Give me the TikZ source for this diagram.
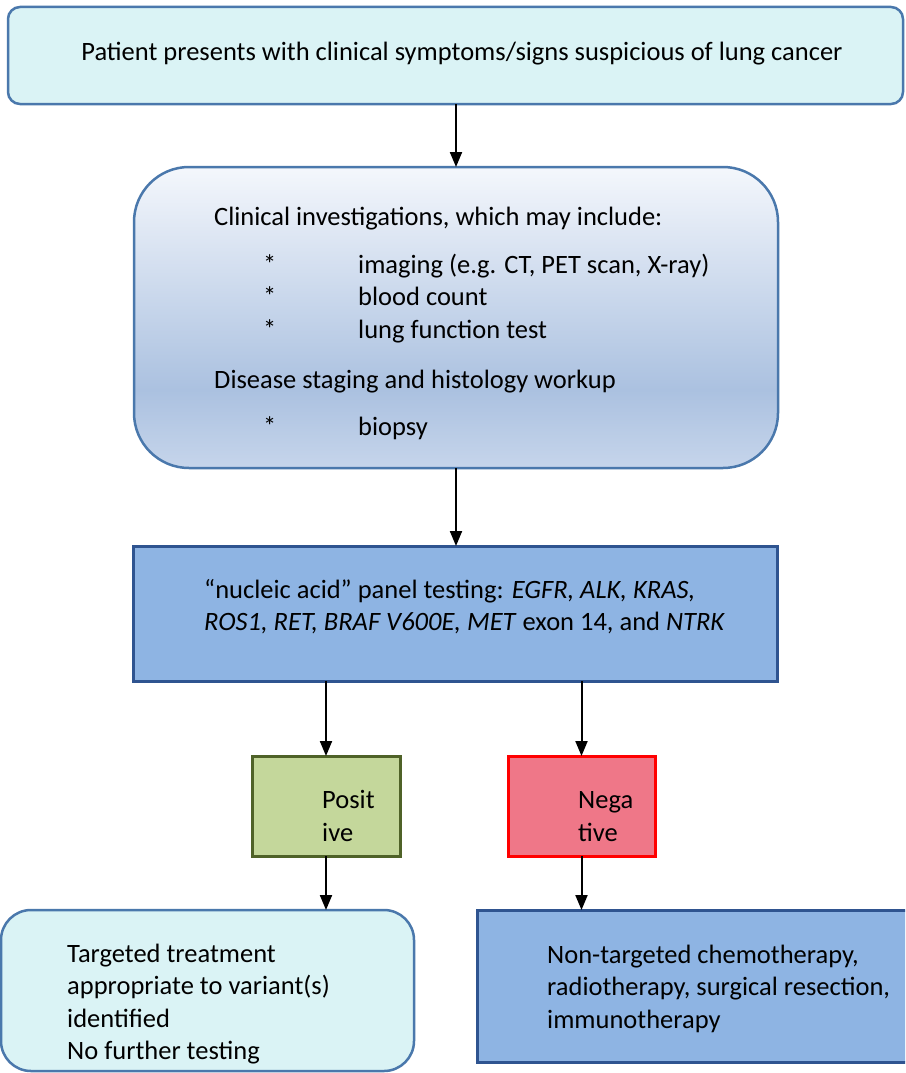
\documentclass[tikz,border=0pt]{standalone}
\usepackage{fontspec}
\setmainfont{Carlito}
\usetikzlibrary{arrows.meta}
\definecolor{cyanfill}{HTML}{DAF3F5}
\definecolor{cyanline}{HTML}{4A78AC}
\definecolor{gradtop}{HTML}{F4F7FC}
\definecolor{gradmid}{HTML}{ABC1E0}
\definecolor{gradbot}{HTML}{C6D5EB}
\definecolor{bluefill}{HTML}{8EB4E3}
\definecolor{blueline}{HTML}{2F5490}
\definecolor{greenfill}{HTML}{C4D79B}
\definecolor{greenline}{HTML}{4F6228}
\definecolor{redfill}{HTML}{EF7788}
\definecolor{redline}{HTML}{FF0000}
\pgfdeclareverticalshading{boxtwoshade}{100bp}{color(0bp)=(gradbot); color(25bp)=(gradbot); color(38bp)=(gradmid); color(75bp)=(gradtop); color(100bp)=(gradtop)}
\begin{document}
\begin{tikzpicture}[x=1pt,y=-1pt,
  boxbase/.style={rectangle, inner sep=0pt, outer sep=0pt},
  cyanbox/.style={boxbase, fill=cyanfill, draw=cyanline, line width=2.5pt},
  gradbox/.style={boxbase, shading=boxtwoshade, draw=cyanline, line width=2.5pt},
  bluebox/.style={boxbase, fill=bluefill, draw=blueline, line width=3pt},
  greenbox/.style={boxbase, fill=greenfill, draw=greenline, line width=3pt},
  redbox/.style={boxbase, fill=redfill, draw=redline, line width=3pt},
  txt/.style={anchor=base west, inner sep=0pt, font=\fontsize{26.5}{32}\selectfont},
  ctxt/.style={anchor=base, inner sep=0pt, font=\fontsize{26.5}{32}\selectfont},
  arr/.style={line width=2pt, -{Triangle[length=15pt,width=12pt]}}
]
\useasboundingbox (0,0) rectangle (905,1073);
\clip (0,0) rectangle (905,1073);
\fill[white] (0,0) rectangle (905,1073);

% boxes
\node[cyanbox, rounded corners=12pt, minimum width=895pt, minimum height=97pt] (b1) at (455.5,55.5) {};
\node[gradbox, rounded corners=55pt, minimum width=644pt, minimum height=301pt] (b2) at (456,317.5) {};
\node[bluebox, minimum width=644pt, minimum height=135pt] (b3) at (455,613.5) {};
\node[greenbox, minimum width=148pt, minimum height=100pt] (pos) at (326,806) {};
\node[redbox, minimum width=147pt, minimum height=100pt] (neg) at (581.5,806) {};
\node[cyanbox, rounded corners=30pt, minimum width=413pt, minimum height=161pt] (bl) at (207.5,990.5) {};
\node[bluebox, minimum width=440pt, minimum height=152pt] (br) at (697,986) {};

% texts
\node[ctxt] (t1) at (462,61) {Patient presents with clinical symptoms/signs suspicious of lung cancer};

\node[txt] (t2a) at (214,225) {Clinical investigations, which may include:};
\node[txt] (t2b) at (263,273) {*};
\node[txt] (t2c) at (358,273) {imaging (e.g. CT, PET scan, X-ray)};
\node[txt] (t2d) at (263,305.5) {*};
\node[txt] (t2e) at (358,305.5) {blood count};
\node[txt] (t2f) at (263,338) {*};
\node[txt] (t2g) at (358,338) {lung function test};
\node[txt] (t2h) at (214,388) {Disease staging and histology workup};
\node[txt] (t2i) at (263,435) {*};
\node[txt] (t2j) at (358,435) {biopsy};

\node[txt] (t3a) at (204,598) {“nucleic acid” panel testing: \textit{EGFR, ALK, KRAS,}};
\node[txt] (t3b) at (204,630) {\textit{ROS1, RET, BRAF V600E, MET} exon 14, and \textit{NTRK}};

\node[txt] (tpa) at (322,808) {Posit};
\node[txt] (tpb) at (322,841) {ive};
\node[txt] (tna) at (578,808) {Nega};
\node[txt] (tnb) at (578,841) {tive};

\node[txt] (tla) at (67,962) {Targeted treatment};
\node[txt] (tlb) at (67,994.5) {appropriate to variant(s)};
\node[txt] (tlc) at (67,1027) {identified};
\node[txt] (tld) at (67,1059.5) {No further testing};

\node[txt] (tra) at (547,963) {Non-targeted chemotherapy,};
\node[txt] (trb) at (547,995.5) {radiotherapy, surgical resection,};
\node[txt] (trc) at (547,1028) {immunotherapy};

% connectors
\draw[arr] (b1.south -| b2.north) -- (b2.north);
\draw[arr] (b2.south) -- (b2.south |- b3.north);
\draw[arr] (b3.south -| pos.north) -- (pos.north);
\draw[arr] (b3.south -| neg.north) -- (neg.north);
\draw[arr] (pos.south) -- (pos.south |- bl.north);
\draw[arr] (neg.south) -- (neg.south |- br.north);
\end{tikzpicture}
\end{document}
